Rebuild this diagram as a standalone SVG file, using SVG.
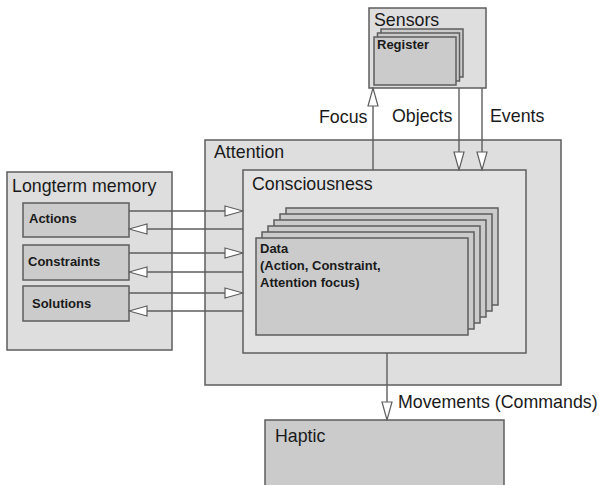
<svg xmlns="http://www.w3.org/2000/svg" width="599" height="485" viewBox="0 0 599 485">
  <defs>
    <style>
      .box { stroke: #5e5e5e; stroke-width: 1.5; }
      .outer { fill: #dedede; }
      .inner { fill: #e3e3e3; }
      .card { fill: #cbcbcb; }
      .title { font-family: "Liberation Sans", Arial, sans-serif; font-size: 17.8px; fill: #1a1a1a; }
      .label { font-family: "Liberation Sans", Arial, sans-serif; font-size: 13px; font-weight: bold; fill: #1a1a1a; }
      .conn { stroke: #5e5e5e; stroke-width: 1.4; fill: none; marker-end: url(#head); }
    </style>
    <marker id="head" markerUnits="userSpaceOnUse" markerWidth="20" markerHeight="12" viewBox="-1 -1 20 12" refX="18" refY="5" orient="auto">
      <path d="M0,0 L18,5 L0,10 z" fill="#ffffff" stroke="#5e5e5e" stroke-width="1.2"/>
    </marker>
  </defs>

  <rect width="599" height="485" fill="#ffffff"/>

  <!-- Sensors with stacked registers -->
  <g id="sensors">
    <rect class="box outer" x="369" y="8" width="117" height="80"/>
    <text class="title" x="374" y="26">Sensors</text>
    <rect class="box card" x="381" y="29" width="82" height="48"/>
    <rect class="box card" x="377.5" y="33" width="82" height="48"/>
    <rect class="box card" x="374" y="37" width="82" height="48"/>
    <text class="label" x="377" y="49">Register</text>
  </g>

  <!-- Attention -->
  <g id="attention">
    <rect class="box outer" x="205" y="140" width="356" height="245"/>
    <text class="title" x="214" y="158">Attention</text>
  </g>

  <!-- Consciousness -->
  <g id="consciousness">
    <rect class="box inner" x="243" y="170" width="283" height="183"/>
    <text class="title" x="252" y="190">Consciousness</text>
  </g>

  <!-- Stacked data cards -->
  <g id="data">
    <rect class="box card" x="286" y="208" width="212" height="97"/>
    <rect class="box card" x="280" y="214" width="212" height="97"/>
    <rect class="box card" x="274" y="220" width="212" height="97"/>
    <rect class="box card" x="268" y="226" width="212" height="97"/>
    <rect class="box card" x="262" y="232" width="212" height="97"/>
    <rect class="box card" x="256" y="238" width="212" height="97"/>
    <text class="label" x="260" y="253">Data</text>
    <text class="label" x="260" y="270">(Action, Constraint,</text>
    <text class="label" x="260" y="287">Attention focus)</text>
  </g>

  <!-- Longterm memory -->
  <g id="longterm-memory">
    <rect class="box outer" x="7" y="172" width="165" height="178"/>
    <text class="title" x="12" y="192">Longterm memory</text>
  </g>
  <g id="actions">
    <rect class="box card" x="23" y="203" width="106" height="34"/>
    <text class="label" x="29" y="223">Actions</text>
  </g>
  <g id="constraints">
    <rect class="box card" x="23" y="245" width="106" height="35"/>
    <text class="label" x="28" y="266">Constraints</text>
  </g>
  <g id="solutions">
    <rect class="box card" x="23" y="286" width="106" height="35"/>
    <text class="label" x="32" y="308">Solutions</text>
  </g>

  <!-- Haptic -->
  <g id="haptic">
    <rect class="box card" x="265" y="420" width="239" height="80"/>
    <text class="title" x="275" y="442">Haptic</text>
  </g>

  <!-- Connectors -->
  <g id="connectors">
    <line class="conn" x1="373" y1="170" x2="373" y2="88"/>
    <line class="conn" x1="459" y1="88" x2="459" y2="170"/>
    <line class="conn" x1="482" y1="88" x2="482" y2="170"/>

    <line class="conn" x1="129" y1="211" x2="243" y2="211"/>
    <line class="conn" x1="243" y1="229" x2="129" y2="229"/>
    <line class="conn" x1="129" y1="253" x2="243" y2="253"/>
    <line class="conn" x1="243" y1="272" x2="129" y2="272"/>
    <line class="conn" x1="129" y1="293" x2="243" y2="293"/>
    <line class="conn" x1="243" y1="311" x2="129" y2="311"/>

    <line class="conn" x1="387" y1="353" x2="387" y2="420"/>

    <text class="title" x="319" y="123">Focus</text>
    <text class="title" x="392" y="122">Objects</text>
    <text class="title" x="490" y="122">Events</text>
    <text class="title" x="398" y="408">Movements (Commands)</text>
  </g>
</svg>
